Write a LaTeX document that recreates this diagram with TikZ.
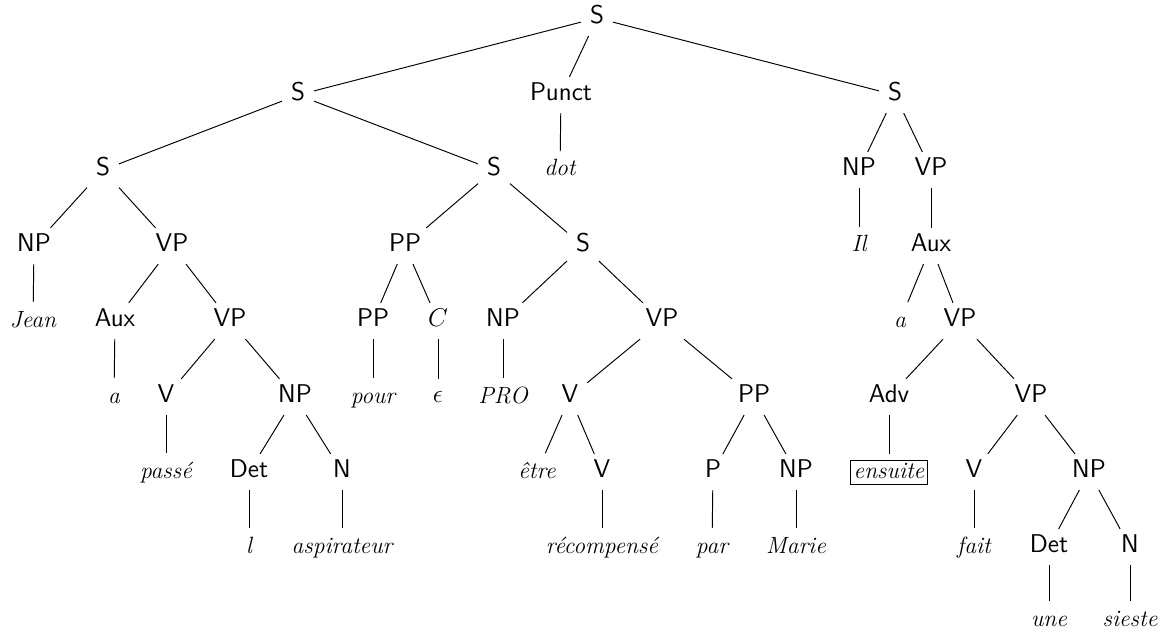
\documentclass[tikz,border=0pt]{standalone}
\usepackage{amsmath}
\usepackage{tikz}
\usetikzlibrary{positioning}

\begin{document}
\begin{tikzpicture}[
  x=0.01643cm,y=-0.01643cm,
  cat/.style={font=\large\sffamily,text height=1.5ex,text depth=.25ex,inner xsep=4pt,inner ysep=4.5pt},
  word/.style={font=\fontsize{11}{13}\selectfont\itshape,text height=1.6ex,text depth=.3ex,inner xsep=4pt,inner ysep=4.5pt},
  boxed/.style={draw,line width=0.4pt,inner xsep=1.5pt,inner ysep=1.5pt,outer xsep=3pt,outer ysep=3pt},
  edge/.style={draw=black,line width=0.45pt}
]
\useasboundingbox (0,0) rectangle (1163,636);
\node[cat] (root) at (597,18) {S};
\node[cat] (sl) at (298,95) {S};
\node[cat] (punct) at (561,95) {Punct};
\node[cat] (sr) at (895,95) {S};
\node[cat] (sll) at (103,170) {S};
\node[cat] (slr) at (494,170) {S};
\node[word] (dot) at (560,170) {dot};
\node[cat] (np1) at (859,170) {NP};
\node[cat] (vp1) at (931,170) {VP};
\node[cat] (np2) at (34,246) {NP};
\node[cat] (vp2) at (172,246) {VP};
\node[cat] (pp1) at (405,246) {PP};
\node[cat] (s3) at (583,246) {S};
\node[word] (il) at (859,246) {Il};
\node[cat] (aux2) at (931,246) {Aux};
\node[word] (jean) at (33,321) {Jean};
\node[cat] (aux1) at (115,321) {Aux};
\node[cat] (vp3) at (230,321) {VP};
\node[cat] (pp2) at (373,321) {PP};
\node[cat] (c1) at (438,321) {$C$};
\node[cat] (np3) at (503,321) {NP};
\node[cat] (vp4) at (662,321) {VP};
\node[word] (a2) at (900,321) {a};
\node[cat] (vp5) at (960,321) {VP};
\node[word] (a1) at (114,397) {a};
\node[cat] (v1) at (166,397) {V};
\node[cat] (np4) at (295,397) {NP};
\node[word] (pour) at (373,397) {pour};
\node[cat] (eps) at (438,397) {$\epsilon$};
\node[word] (pro) at (503,397) {PRO};
\node[cat] (v2) at (570,397) {V};
\node[cat] (pp3) at (754,397) {PP};
\node[cat] (adv) at (889,397) {Adv};
\node[cat] (vp6) at (1031,397) {VP};
\node[word] (passe) at (166,472) {passé};
\node[cat] (det1) at (249,472) {Det};
\node[cat] (n1) at (342,472) {N};
\node[word] (etre) at (537,472) {être};
\node[cat] (v3) at (602,472) {V};
\node[cat] (p1) at (713,472) {P};
\node[cat] (np5) at (796,472) {NP};
\node[word,boxed] (ensuite) at (889,472) {ensuite};
\node[cat] (v4) at (974,472) {V};
\node[cat] (np6) at (1089,472) {NP};
\node[word] (l) at (249,547) {l};
\node[word] (aspirateur) at (342,547) {aspirateur};
\node[word] (recompense) at (602,547) {récompensé};
\node[word] (par) at (712,547) {par};
\node[word] (marie) at (796,547) {Marie};
\node[word] (fait) at (974,547) {fait};
\node[cat] (det2) at (1049,547) {Det};
\node[cat] (n2) at (1130,547) {N};
\node[word] (une) at (1049,620) {une};
\node[word] (sieste) at (1130,620) {sieste};
\foreach \a/\b in {root/sl,root/punct,root/sr,sl/sll,sl/slr,punct/dot,sr/np1,sr/vp1,sll/np2,sll/vp2,slr/pp1,slr/s3,np1/il,vp1/aux2,np2/jean,vp2/aux1,vp2/vp3,pp1/pp2,pp1/c1,s3/np3,s3/vp4,aux2/a2,aux2/vp5,aux1/a1,vp3/v1,vp3/np4,pp2/pour,c1/eps,np3/pro,vp4/v2,vp4/pp3,vp5/adv,vp5/vp6,v1/passe,np4/det1,np4/n1,v2/etre,v2/v3,pp3/p1,pp3/np5,adv/ensuite,vp6/v4,vp6/np6,det1/l,n1/aspirateur,v3/recompense,p1/par,np5/marie,v4/fait,np6/det2,np6/n2,det2/une,n2/sieste} {
  \draw[edge] (\a) -- (\b);
}
\end{tikzpicture}
\end{document}
